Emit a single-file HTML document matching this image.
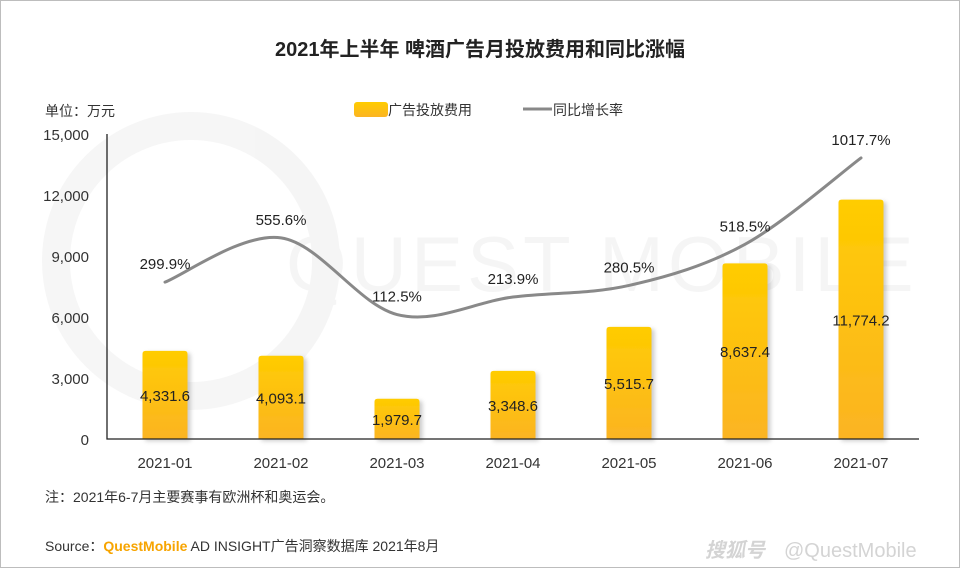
<!DOCTYPE html>
<html><head><meta charset="utf-8"><style>
body{margin:0;background:#fff;}
#wrap{position:relative;width:958px;height:566px;border:1px solid #bdbdbd;overflow:hidden;font-family:"Liberation Sans","Noto Sans CJK SC",sans-serif;}
svg text{font-family:"Liberation Sans","Noto Sans CJK SC",sans-serif;}
</style></head><body>
<div id="wrap">
<svg id="chart" width="958" height="566">
<defs>
<linearGradient id="bg" x1="0" y1="0" x2="0" y2="1"><stop offset="0" stop-color="#ffcc00"/><stop offset="1" stop-color="#fbb423"/></linearGradient>
<filter id="sh" x="-20%" y="-10%" width="150%" height="130%"><feDropShadow dx="3" dy="2" stdDeviation="2" flood-color="#000" flood-opacity="0.2"/></filter>
</defs>
<g opacity="0.035">
<circle cx="190" cy="260" r="135" fill="none" stroke="#000" stroke-width="28"/>
<text x="285" y="290" font-size="78" fill="#000" letter-spacing="4">QUEST MOBILE</text>
</g>
<text x="479" y="55" text-anchor="middle" font-size="20" fill="#222" font-weight="bold">2021年上半年 啤酒广告月投放费用和同比涨幅</text>
<text x="44" y="115" font-size="14" fill="#333">单位：万元</text>
<rect x="353" y="101" width="34" height="15" rx="3" fill="url(#bg)"/>
<text x="387" y="114" font-size="14" fill="#333">广告投放费用</text>
<line x1="522" y1="108" x2="551" y2="108" stroke="#888" stroke-width="3"/>
<text x="552" y="114" font-size="14" fill="#333">同比增长率</text>
<g id="plot"></g>
<text x="44" y="501" font-size="14" fill="#333">注：2021年6-7月主要赛事有欧洲杯和奥运会。</text>
<text x="44" y="550" font-size="14" fill="#333">Source：<tspan fill="#f7a400" font-weight="bold">QuestMobile</tspan> AD INSIGHT广告洞察数据库 2021年8月</text>
<text x="704" y="556" font-size="20" fill="#d4d4d4" font-style="italic" font-weight="bold">搜狐号</text>
<text x="783" y="556" font-size="20" fill="#d4d4d4">@QuestMobile</text>
</svg>
</div>
<script>
const categories=["2021-01","2021-02","2021-03","2021-04","2021-05","2021-06","2021-07"];
const spend=[4331.6,4093.1,1979.7,3348.6,5515.7,8637.4,11774.2];
const growth=[299.9,555.6,112.5,213.9,280.5,518.5,1017.7];
const growthLabels=["299.9%","555.6%","112.5%","213.9%","280.5%","518.5%","1017.7%"];
const yTicks=[0,3000,6000,9000,12000,15000];
const yTickLabels=["0","3,000","6,000","9,000","12,000","15,000"];
const NS="http://www.w3.org/2000/svg";
const plot=document.getElementById('plot');
const X0=106,X1=918,Y0=438,Y1=133;
const band=(X1-X0)/categories.length;
const xc=i=>X0+band*(i+0.5);
const y=v=>Y0-(v/15000)*(Y0-Y1);
const y2=v=>333-v*0.173;
function mk(t,a){const e=document.createElementNS(NS,t);for(const k in a)e.setAttribute(k,a[k]);plot.appendChild(e);return e;}
const fmt=v=>v.toLocaleString('en-US',{minimumFractionDigits:1,maximumFractionDigits:1});
yTicks.forEach((t,i)=>{const e=mk('text',{x:88,y:y(t)+6,'text-anchor':'end','font-size':15,fill:'#333'});e.textContent=yTickLabels[i];

});
spend.forEach((v,i)=>{const bw=45;const r=mk('path',{d:`M${xc(i)-bw/2},${Y0}V${y(v)+3}q0,-3 3,-3h${bw-6}q3,0 3,3V${Y0}Z`,fill:'url(#bg)',filter:'url(#sh)'});


const t=mk('text',{x:xc(i),y:(y(v)+Y0)/2+6,'text-anchor':'middle','font-size':15,fill:'#222'});t.textContent=fmt(v);


const c=mk('text',{x:xc(i),y:467,'text-anchor':'middle','font-size':15,fill:'#333'});c.textContent=categories[i];

});
const ax=mk('path',{d:`M${X0},${Y1}V${Y0}H${X1}`,fill:'none',stroke:'#222','stroke-width':1.3});


const pts=growth.map((g,i)=>[xc(i),y2(g)]);
let d=`M${pts[0][0]},${pts[0][1]}`;
for(let i=0;i<pts.length-1;i++){const p0=pts[Math.max(0,i-1)],p1=pts[i],p2=pts[i+1],p3=pts[Math.min(pts.length-1,i+2)];
const c1=[p1[0]+(p2[0]-p0[0])/6,p1[1]+(p2[1]-p0[1])/6],c2=[p2[0]-(p3[0]-p1[0])/6,p2[1]-(p3[1]-p1[1])/6];
d+=`C${c1[0]},${c1[1]} ${c2[0]},${c2[1]} ${p2[0]},${p2[1]}`;}
const ln=mk('path',{d:d,fill:'none',stroke:'#898989','stroke-width':3,'stroke-linecap':'round'});


pts.forEach((p,i)=>{const t=mk('text',{x:p[0],y:p[1]-13,'text-anchor':'middle','font-size':15,fill:'#222'});t.textContent=growthLabels[i];

});
</script>
</body></html>
